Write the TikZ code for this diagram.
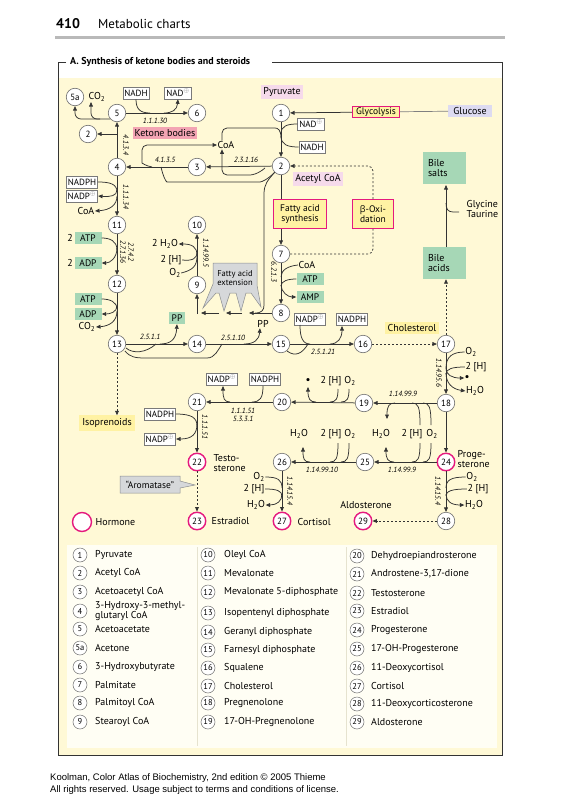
\documentclass[tikz,border=0pt]{standalone}
\usepackage{fontspec}
\setmainfont{PT Sans}
\newfontfamily\footfont{Liberation Sans}
\newfontfamily\grkfont{Open Sans}
\usetikzlibrary{arrows.meta}
\definecolor{bgY}{HTML}{FFF9D6}
\definecolor{legc}{HTML}{FFFEF4}
\definecolor{sepc}{HTML}{E6E3CF}
\definecolor{ndc}{HTML}{6E6E6E}
\definecolor{mag}{HTML}{E5197E}
\definecolor{cofb}{HTML}{7A7A7A}
\definecolor{grnc}{HTML}{A6D7B6}
\definecolor{lnc}{HTML}{333333}
\definecolor{yc}{HTML}{FFF2A3}
\definecolor{pkc}{HTML}{F6DAEB}
\definecolor{kbc}{HTML}{F3A4B3}
\definecolor{lavc}{HTML}{DDDBF1}
\definecolor{calc}{HTML}{D6D8DA}
\definecolor{calb}{HTML}{8C8E90}
\newcommand{\pls}{\textsuperscript{\color{gray}$\oplus$}}
\tikzset{
 nd/.style={circle,draw=ndc,fill=white,line width=0.6pt,minimum size=17.5pt,inner sep=0pt,font=\fontsize{9}{9}\selectfont},
 hor/.style={circle,draw=mag,fill=white,line width=1.4pt,minimum size=17.5pt,inner sep=0pt,font=\fontsize{9}{9}\selectfont},
 cof/.style={draw=cofb,fill=white,line width=0.6pt,inner sep=1.5pt,minimum height=12pt,font=\fontsize{9}{9}\selectfont},
 grn/.style={fill=grnc,inner sep=1.5pt,minimum height=12pt,minimum width=27pt,font=\fontsize{9.5}{9.5}\selectfont},
 ec/.style={font=\fontsize{7.5}{8}\selectfont\itshape,inner sep=0.5pt},
 lbl/.style={font=\fontsize{10}{10.5}\selectfont,inner sep=0.5pt},
 ln/.style={draw=lnc,line width=0.75pt},
 ar/.style={ln,->},
 dsh/.style={ln,dash pattern=on 2pt off 2pt},
 pbox/.style={draw=mag,line width=0.8pt,fill=yc,font=\fontsize{9.5}{10.5}\selectfont,align=center,inner sep=1.5pt},
 gbox/.style={fill=grnc,font=\fontsize{10}{10.5}\selectfont,align=left,text width=33pt,inner sep=5pt,minimum height=32pt},
 callout/.style={fill=calc,draw=calb,line width=0.5pt},
 lgc/.style={circle,draw=ndc,fill=white,line width=0.5pt,minimum size=14pt,inner sep=0pt,font=\fontsize{8.5}{8.5}\selectfont},
 lgt/.style={font=\fontsize{10}{10.5}\selectfont,inner sep=0pt,anchor=west,align=left},
 dotl/.style={font=\fontsize{11}{11}\selectfont,inner sep=0pt},
}
\begin{document}
\begin{tikzpicture}[x=1pt,y=-1pt,>={Triangle[length=4.5pt,width=3.8pt]}]
\useasboundingbox (0,0) rectangle (564,800);
\fill[white] (0,0) rectangle (564,800);
% header
\node[font=\fontsize{14}{14}\selectfont\bfseries,anchor=base west,inner sep=0] (pg) at (56,29) {410};
\node[font=\fontsize{13}{13}\selectfont,anchor=base west,inner sep=0] (hd) at (98,29) {Metabolic charts};
\fill[gray!55] (55,36.5) rectangle (505,39.5);
% frame
\fill[bgY] (58,78) rectangle (502,755);
\fill[legc] (67,545) rectangle (497,748);
\draw[sepc,line width=0.8pt] (197,547) -- (197,746) (346,547) -- (346,746);
\draw[lnc,line width=0.8pt] (66,62) -- (58,62) -- (58,755) -- (502,755) -- (502,62) -- (272,62);
\node[font=\fontsize{10}{10}\selectfont\bfseries,anchor=west,inner sep=0] (ttl) at (70,62) {A. Synthesis of ketone bodies and steroids};

% ---------- top left: ketone bodies
\node[nd] (n5a) at (75,97) {5a};
\node[lbl] (co2a) at (97,97) {CO\textsubscript{2}};
\node[cof] (nadh1) at (136,93) {NADH};
\node[cof] (nad1) at (178,93) {NAD\pls};
\node[nd] (n5) at (117,113) {5};
\node[nd] (n6) at (197,113) {6};
\draw[ar] (n5) -- (n6);
\draw[ln] (nadh1.south) .. controls (136,109) and (140,113) .. (150,113);
\draw[ar] (164,113) .. controls (172,113) and (177,110) .. (nad1.south);
\node[ec] at (155,121) {1.1.1.30};
\draw[ar,rounded corners=6] (110,119) -| (n5a.south);
\draw[ar,rounded corners=6] (100,119) -| ([xshift=-6pt]co2a.south);
\node[nd] (n2l) at (88,134) {2};
\node[nd] (n4) at (117,167) {4};
\draw[ar] (n4) -- (n5);
\draw[ar] (117,134) -- (n2l);
\node[ec,rotate=-90] at (126,145) {4.1.3.4};
\node[lbl,fill=kbc,inner sep=2pt] (kb) at (165,133) {Ketone bodies};
\node[nd] (n3) at (197,167) {3};
\draw[ar] (n3) -- (n4);
\node[ec] at (165,160) {4.1.3.5};
\node[lbl] (coa1) at (226,145) {CoA};
\draw[ar,rounded corners=5] (152,167) .. controls (146,166) and (142,163) .. (142,158) |- (coa1.west);

% ---------- pyruvate / acetyl CoA
\node[nd] (n1) at (281,113) {1};
\node[nd] (n2) at (281,166) {2};
\draw[ar] (n1) -- (n2);
\node[lbl,fill=pkc,inner sep=2pt] (pyr) at (282,92) {Pyruvate};
\node[pbox,inner xsep=3.5pt] (gly) at (376,112) {Glycolysis};
\node[lbl,fill=lavc,inner sep=2.5pt,inner xsep=5pt] (glu) at (470,111) {Glucose};
\draw[ar] (gly) -- (n1);
\draw[line width=0.7pt,draw=gray] (gly) -- (glu);
\node[cof] (nad2) at (311,124) {NAD\pls};
\node[cof] (nadh2) at (312,147) {NADH};
\draw[ln] (nad2.west) .. controls (287,124) and (281,126) .. (281,134);
\draw[ln] (281,136) .. controls (281,145) and (288,147) .. (nadh2.west);
\draw[ln,rounded corners=5] ([xshift=-4pt]coa1.north) |- (270,128) .. controls (278,128) and (281,130) .. (281,138);
\draw[ar] (n2) -- (n3);
\node[ec] at (246,160) {2.3.1.16};
\draw[ar,rounded corners=5] (265,168) .. controls (258,174) and (252,175) .. (245,175) -| ([xshift=-4pt]coa1.south);
\draw[ln,rounded corners=5] (n2.south west) .. controls (268,179) and (262,182) .. (255,182) -- (172,182) .. controls (166,182) and (163,176) .. (161,167);
\node[lbl,fill=pkc,inner sep=2pt] (acoa) at (318,179) {Acetyl CoA};

% fatty acid synthesis / beta-oxidation
\node[pbox,minimum width=53pt,minimum height=29pt] (fas) at (300,214) {Fatty acid\\synthesis};
\node[pbox,minimum width=41pt,minimum height=29pt] (box) at (373,214) {{\grkfont\fontsize{9}{10}\selectfont β}-Oxi-\\dation};
\node[nd] (n7) at (281,254) {7};
\draw[ln] (n2.south) -- (n2.south |- fas.north);
\draw[ar] (fas.south -| n7) -- (n7);
\draw[dsh,rounded corners=5] (n7.east) -- (373,254) -- (box.south);
\draw[dsh,->,rounded corners=5] (box.north) -- (373,166) -- (n2.east);

% bile
\node[gbox] (bs) at (444.5,168) {Bile\\salts};
\node[gbox] (ba) at (444.5,263) {Bile\\acids};
\draw[ar] (446,247) -- (446,185);
\node[lbl,align=left,anchor=west] (gly2) at (466,209) {Glycine\\Taurine};
\draw[ln] (459,212) -- (453,212) .. controls (448,212) and (446,209) .. (446,203);
\node[nd] (n17) at (446,344) {17};
\draw[dsh,->] (n17) -- (n17 |- ba.south);
\node[lbl,fill=yc,inner sep=2.5pt] (chol) at (412,328) {Cholesterol};
\node[nd] (n16) at (363,344) {16};
\draw[dsh,->] (n16) -- (n17);

% palmitate -> palmitoyl CoA
\node[nd] (n8) at (281,313) {8};
\draw[ar] (n7) -- (n8);
\node[ec,rotate=-90] at (274,272) {6.2.1.3};
\node[lbl] (coa2) at (307,265) {CoA};
\node[grn] (atp2) at (310,279) {ATP};
\node[grn] (amp2) at (310,297) {AMP};
\draw[ln] (coa2.west) .. controls (288,266) and (281,270) .. (281,277);
\draw[ln] (atp2.west) .. controls (288,279) and (281,281) .. (281,286);
\draw[ar] (281,285) .. controls (281,292) and (288,297) .. (amp2.west);

% fatty acid extension
\node[nd] (n9) at (197,285) {9};
\node[nd] (n10) at (197,225) {10};
\draw[ar] (n9) -- (n10);
\node[ec,rotate=-90] at (206,253) {1.14.99.5};
\node[lbl] (h2o9) at (165,244) {2 H\textsubscript{2}O};
\node[lbl] (h9) at (171,260) {2 [H]};
\node[lbl] (o29) at (175,273) {O\textsubscript{2}};
\draw[ln] (h9.east) .. controls (192,261) and (197,259) .. (197,252);
\draw[ln] (o29.east) .. controls (193,270) and (197,266) .. (197,256);
\draw[ar] (197,255) .. controls (197,247) and (192,244) .. (h2o9.east);
\path[callout] (213,263) -- (257,263) -- (257,285) -- (261,307) -- (251,293) -- (246,293) -- (241,311) -- (236,293) -- (230,293) -- (224,311) -- (219,293) -- (216,293) -- (203,308) -- (213,284) -- cycle;
\node[font=\fontsize{8.5}{9.5}\selectfont,align=center,inner sep=0] (fae) at (235,278) {Fatty acid\\extension};
\draw[ar] (n8.west) -- (249,313);
\draw[ar] (242,313) -- (226,313);
\draw[ar] (219,313) -- (201,313);
\draw[ar] (197,314) -- (n9.south);
\draw[ln] (n2.south west) .. controls (268,180) and (264,184) .. (264,194) -- (264,305) .. controls (264,310) and (262,313) .. (255,313);

% isoprene chain
\node[nd] (n11) at (117,225) {11};
\draw[ar] (n4) -- (n11);
\node[ec,rotate=-90] at (126,197) {1.1.1.34};
\node[cof] (nadph1) at (82,182) {NADPH};
\node[cof] (nadp1) at (82,196) {NADP\pls};
\node[lbl] (coa3) at (86,211) {CoA};
\draw[ln] (nadph1.east) .. controls (110,182) and (117,184) .. (117,192);
\draw[ar] (117,190) .. controls (117,196) and (110,197) .. (nadp1.east);
\draw[ar] (117,196) .. controls (117,205) and (110,210) .. (coa3.east);
\node[nd] (n12) at (117,284) {12};
\draw[ar] (n11) -- (n12);
\node[ec,rotate=-90,align=center] at (127,252) {2.7.4.2\\2.7.1.36};
\node[lbl] (two1) at (70,238) {2};
\node[grn] (atp1) at (88,238) {ATP};
\node[lbl] (two2) at (70,263) {2};
\node[grn] (adp1) at (88,263) {ADP};
\draw[ln] (atp1.east) .. controls (110,238) and (117,241) .. (117,250);
\draw[ar] (117,248) .. controls (117,258) and (110,263) .. (adp1.east);
\node[nd] (n13) at (117,344) {13};
\draw[ar] (n12) -- (n13);
\node[grn] (atp3) at (88,299) {ATP};
\node[grn] (adp3) at (88,314) {ADP};
\node[lbl] (co2b) at (87,327) {CO\textsubscript{2}};
\draw[ln] (atp3.east) .. controls (110,299) and (117,302) .. (117,309);
\draw[ar] (117,306) .. controls (117,312) and (110,314) .. (adp3.east);
\draw[ar] (117,311) .. controls (117,321) and (110,326) .. (co2b.east);
\node[nd] (n14) at (197,344) {14};
\draw[ar] (n13) -- (n14);
\node[ec] at (150,337) {2.5.1.1};
\node[grn,minimum width=16pt] (pp1) at (177,318) {PP};
\draw[ar] (160,344) .. controls (170,344) and (176,340) .. (pp1.south);
\draw[ln] (126,348) .. controls (133,354) and (146,353) .. (156,344);
\draw[ln] (125,351) .. controls (130,357) and (135,358) .. (145,358) -- (207,358) .. controls (215,358) and (218,350) .. (222,344);
\node[nd] (n15) at (281,344) {15};
\draw[ar] (n14) -- (n15);
\node[ec] at (233,338) {2.5.1.10};
\node[lbl] (pp2) at (263,324) {PP};
\draw[ar] (244,344) .. controls (254,344) and (259,340) .. ([xshift=-3pt]pp2.south);
\draw[ar] (n15) -- (n16);
\node[cof] (nadp2) at (310,319) {NADP\pls};
\node[cof] (nadph2) at (352,319) {NADPH};
\draw[ln] (300,325) .. controls (300,338) and (303,344) .. (310,344);
\draw[ar] (330,344) .. controls (338,344) and (342,338) .. (342,326);
\draw[ln] (287,351) .. controls (295,357) and (302,354) .. (308,344);
\node[ec] at (323,352) {2.5.1.21};
\node[lbl,fill=yc,inner sep=3pt] (iso) at (107,423) {Isoprenoids};
\draw[dsh,->] (n13) -- (n13 |- iso.north);

% ---------- steroid hormones
\node[nd] (n18) at (446,403) {18};
\draw[ar] (n17) -- (n18);
\node[ec,rotate=-90] at (439,373) {1.14.95.6};
\node[lbl] (o217) at (471,352) {O\textsubscript{2}};
\node[lbl] (h17) at (476,367) {2 [H]};
\node[dotl] (dot17) at (467,378) {•};
\node[lbl] (h2o17) at (475,391) {H\textsubscript{2}O};
\draw[ln] (o217.west) .. controls (452,352) and (446,357) .. (446,368);
\draw[ln] (h17.west) .. controls (452,367) and (446,369) .. (446,374);
\draw[ar] (446,368) .. controls (446,375) and (452,378) .. (dot17.west);
\draw[ar] (446,373) .. controls (446,383) and (452,389) .. (h2o17.west);
\node[nd] (n19) at (364,403) {19};
\draw[ar] (n18) -- (n19);
\node[ec] at (403,394) {1.14.99.9};
\node[lbl] (h2oA) at (381,434) {H\textsubscript{2}O};
\node[lbl] (hA) at (412,434) {2 [H]};
\node[lbl] (o2A) at (432,434) {O\textsubscript{2}};
\draw[ar] (395,403) .. controls (389,403) and (387,406) .. (387,419);
\draw[ln] (412,403) .. controls (418,403) and (420,406) .. (420,425);
\draw[ln] (423,403) .. controls (429,403) and (431,406) .. (431,425);
\node[nd] (n20) at (282,402) {20};
\draw[ar] (n19) -- (n20);
\node[dotl] (dotB) at (308,381) {•};
\node[lbl] (hB) at (331,381) {2 [H]};
\node[lbl] (o2B) at (350,381) {O\textsubscript{2}};
\draw[ar] (316,402) .. controls (310,402) and (308,399) .. (308,387);
\draw[ln] (330,402) .. controls (336,402) and (338,399) .. (338,389);
\draw[ln] (341,402) .. controls (347,402) and (349,399) .. (349,389);
\node[hor] (n24) at (446,462) {24};
\node[nd] (n25) at (365,462) {25};
\node[nd] (n26) at (282,462) {26};
\draw[ar] (n18) -- (n24);
\draw[ar] (n24) -- (n25);
\draw[ar] (n25) -- (n26);
\node[ec] at (402,470) {1.14.99.9};
\node[ec] at (322,470) {1.14.99.10};
\draw[ar] (394,462) .. controls (388,462) and (386,459) .. (386,447);
\draw[ln] (412,462) .. controls (418,462) and (420,459) .. (420,443);
\draw[ln] (423,462) .. controls (429,462) and (431,459) .. (431,443);
\node[lbl] (h2oC) at (299,434) {H\textsubscript{2}O};
\node[lbl] (hC) at (331,434) {2 [H]};
\node[lbl] (o2C) at (350,434) {O\textsubscript{2}};
\draw[ar] (310,462) .. controls (304,462) and (303,459) .. (303,447);
\draw[ln] (330,462) .. controls (336,462) and (338,459) .. (338,443);
\draw[ln] (341,462) .. controls (347,462) and (349,459) .. (349,443);
\node[lbl,align=left,anchor=west] (prog) at (457,459) {Proge-\\sterone};

\node[nd] (n21) at (197,402) {21};
\draw[ar] (n20) -- (n21);
\node[cof] (nadp3) at (222,379) {NADP\pls};
\node[cof] (nadph3) at (265,379) {NADPH};
\draw[ar] (230,402) .. controls (224,402) and (223,398) .. (223,386);
\draw[ln] (263,386) .. controls (263,398) and (260,402) .. (252,402);
\node[ec,align=center] at (243,415) {1.1.1.51\\5.3.3.1};
\node[hor] (n22) at (197,462) {22};
\draw[ar] (n21) -- (n22);
\node[ec,rotate=-90] at (205,427) {1.1.1.51};
\node[cof] (nadph4) at (160,414) {NADPH};
\node[cof] (nadp4) at (160,439) {NADP\pls};
\draw[ln] (nadph4.east) .. controls (192,414) and (197,418) .. (197,426);
\draw[ar] (197,424) .. controls (197,434) and (192,439) .. (nadp4.east);
\node[lbl,align=left,anchor=west] (testo) at (213,463) {Testo-\\sterone};
\node[hor] (n23) at (197,521) {23};
\draw[dsh,->] (n22) -- (n23);
\path[callout] (120,476) -- (180,476) -- (180,481) -- (195,485) -- (180,488) -- (180,493) -- (120,493) -- cycle;
\node[font=\fontsize{9.5}{10}\selectfont,inner sep=0] (aro) at (150,484.5) {“Aromatase”};
\node[lbl,anchor=west] (estr) at (211,521) {Estradiol};
\node[hor] (n27) at (282,521) {27};
\draw[ar] (n26) -- (n27);
\node[ec,rotate=-90] at (290,491) {1.14.15.4};
\node[lbl] (o2D) at (259,477) {O\textsubscript{2}};
\node[lbl] (hD) at (254,489) {2 [H]};
\node[lbl] (h2oD) at (256,505) {H\textsubscript{2}O};
\draw[ln] (o2D.east) .. controls (278,477) and (282,480) .. (282,488);
\draw[ln] (hD.east) .. controls (277,489) and (282,491) .. (282,496);
\draw[ar] (282,494) .. controls (282,501) and (277,505) .. (h2oD.east);
\node[lbl,anchor=west] (cort) at (297,522) {Cortisol};
\node[hor] (n29) at (363,521) {29};
\node[lbl] (aldo) at (366,505) {Aldosterone};
\node[nd] (n28) at (446,521) {28};
\draw[ar] (n24) -- (n28);
\draw[dsh,->] (n28) -- (n29);
\node[ec,rotate=-90] at (438,491) {1.14.15.4};
\node[lbl] (o2E) at (472,477) {O\textsubscript{2}};
\node[lbl] (hE) at (478,489) {2 [H]};
\node[lbl] (h2oE) at (474,505) {H\textsubscript{2}O};
\draw[ln] (o2E.west) .. controls (451,477) and (446,480) .. (446,488);
\draw[ln] (hE.west) .. controls (452,489) and (446,491) .. (446,496);
\draw[ar] (446,494) .. controls (446,501) and (451,505) .. (h2oE.west);
\node[hor,minimum size=19pt] (hleg) at (82,522) {};
\node[lbl,anchor=west] (hormt) at (95,522) {Hormone};

% ---------- legend
\foreach \num/\txt/\yy in {1/Pyruvate/555,2/Acetyl CoA/573,3/Acetoacetyl CoA/592,4/{3-Hydroxy-3-methyl-\\glutaryl CoA}/611,5/Acetoacetate/629,5a/Acetone/648,6/3-Hydroxybutyrate/667,7/Palmitate/685,8/Palmitoyl CoA/703,9/Stearoyl CoA/722}{
 \node[lgc] (lc\num) at (80,\yy) {\num};
 \node[lgt] (lt\num) at (95,\yy) {\txt};
}
\foreach \num/\txt/\yy in {10/Oleyl CoA/555,11/Mevalonate/573,12/Mevalonate 5-diphosphate/592,13/Isopentenyl diphosphate/613,14/Geranyl diphosphate/632,15/Farnesyl diphosphate/650,16/Squalene/668,17/Cholesterol/686,18/Pregnenolone/703,19/17-OH-Pregnenolone/722}{
 \node[lgc] (lc\num) at (208,\yy) {\num};
 \node[lgt] (lt\num) at (224,\yy) {\txt};
}
\foreach \num/\txt/\yy in {20/Dehydroepiandrosterone/556,21/{Androstene-3,17-dione}/574,22/Testosterone/593,23/Estradiol/611,24/Progesterone/630,25/17-OH-Progesterone/649,26/11-Deoxycortisol/668,27/Cortisol/686,28/11-Deoxycorticosterone/704,29/Aldosterone/722}{
 \node[lgc] (lc\num) at (357,\yy) {\num};
 \node[lgt] (lt\num) at (371,\yy) {\txt};
}
% footer
\node[font=\footfont\fontsize{9.5}{12}\selectfont,align=left,anchor=north west,inner sep=0] (foot) at (50,773) {Koolman, Color Atlas of Biochemistry, 2nd edition © 2005 Thieme\\All rights reserved. Usage subject to terms and conditions of license.};
\end{tikzpicture}
\end{document}
